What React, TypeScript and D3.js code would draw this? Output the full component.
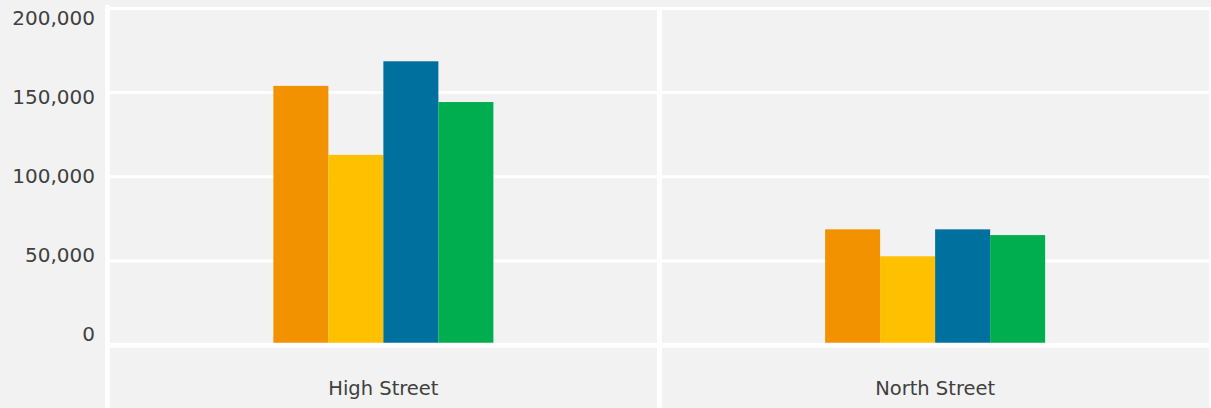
import React from "react";
import * as d3 from "d3";

const categories = ["High Street", "North Street"];
const seriesNames = ["Series A", "Series B", "Series C", "Series D"];
const seriesColors = ["#f39200", "#ffc000", "#00709e", "#00ae4f"];
const valuesHigh = [154000, 113000, 168600, 144400];
const valuesNorth = [68800, 52800, 68800, 65400];
const seriesValues = [valuesHigh, valuesNorth];
const yTicks = [0, 50000, 100000, 150000, 200000];

const W = 1211;
const H = 408;

export default function App() {
  const x = d3.scaleBand<string>().domain(categories).range([107.5, 1211]).padding(0);
  const y = d3.scaleLinear().domain([0, 200000]).range([345.2, 8.4]);
  const yLabel = d3.scaleLinear().domain([0, 200000]).range([334, 17.5]);
  const fmt = d3.format(",");
  const groupWidth = 220;
  const font = "'DejaVu Sans', sans-serif";

  return (
    <svg width={W} height={H} style={{ position: "absolute", left: 0, top: 0 }}>
      <rect x={0} y={0} width={W} height={H} fill="#f2f2f2" />
      {yTicks.filter((t) => t !== 0).map((t) => (
        <line key={t} x1={110} x2={t === 200000 ? W : 1209} y1={y(t)} y2={y(t)} stroke="#ffffff" strokeWidth={3} />
      ))}
      {categories.map((c, ci) => {
        const cx = (x(c) as number) + x.bandwidth() / 2;
        const xs = d3.scaleBand<string>().domain(seriesNames).range([cx - groupWidth / 2, cx + groupWidth / 2]);
        return (
          <g key={c}>
            {seriesNames.map((s, si) => (
              <rect
                key={s}
                x={xs(s)}
                width={xs.bandwidth()}
                y={y(seriesValues[ci][si])}
                height={y(0) - y(seriesValues[ci][si])}
                fill={seriesColors[si]}
              />
            ))}
            <text x={cx} y={395} textAnchor="middle" fontFamily={font} fontSize={19.5} fill="#404040">
              {c}
            </text>
          </g>
        );
      })}
      <line x1={110} x2={1209} y1={y(0)} y2={y(0)} stroke="#ffffff" strokeWidth={5} />
      <line x1={107.5} x2={107.5} y1={5} y2={H} stroke="#ffffff" strokeWidth={4.5} />
      <line x1={659.5} x2={659.5} y1={y(200000)} y2={H} stroke="#ffffff" strokeWidth={5} />
      <line x1={1210} x2={1210} y1={y(200000)} y2={H} stroke="#ffffff" strokeWidth={2} />
      {yTicks.map((t) => (
        <text
          key={t}
          x={95}
          y={yLabel(t)}
          dy="0.36em"
          textAnchor="end"
          fontFamily={font}
          fontSize={20}
          fill="#404040"
        >
          {fmt(t)}
        </text>
      ))}
    </svg>
  );
}
